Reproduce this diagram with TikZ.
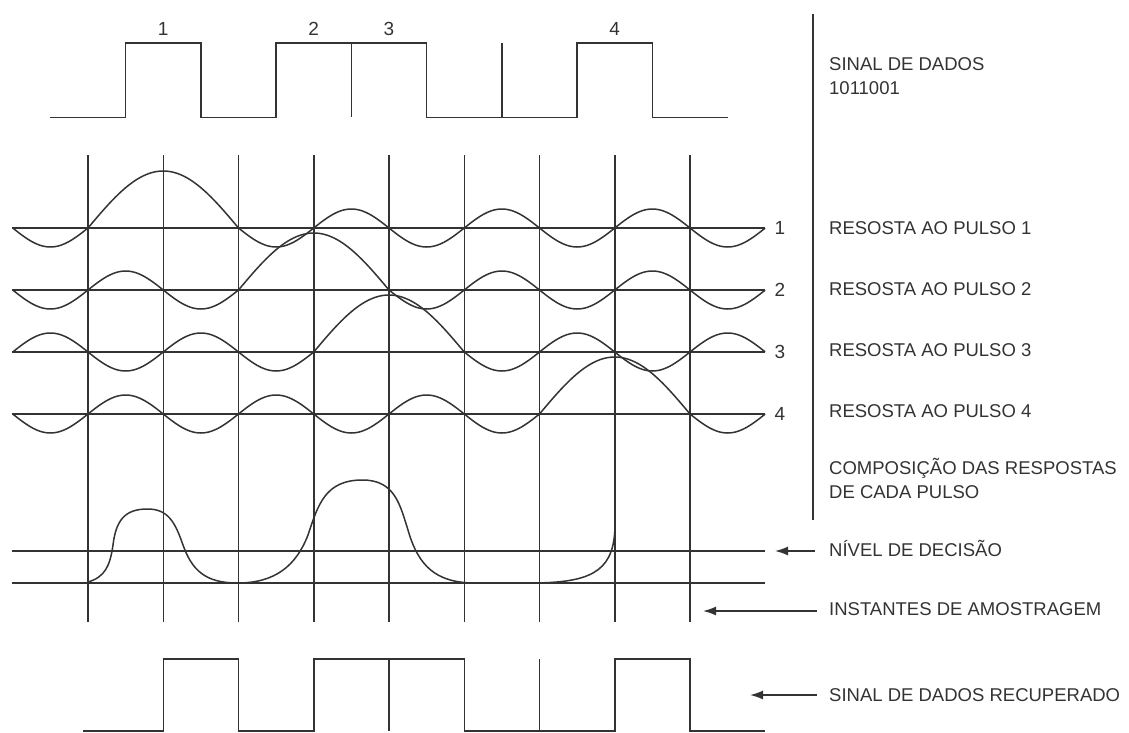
\documentclass[tikz,border=0pt]{standalone}
\usepackage{fontspec}
\setmainfont{Liberation Sans}
\usetikzlibrary{arrows.meta}
\begin{document}
\begin{tikzpicture}[x=1pt,y=-1pt,
  ln/.style={draw=black!80, line width=1.5pt},
  lbl/.style={anchor=west, font=\fontsize{18.5}{22}\selectfont, text=black!80, inner sep=0pt, text height=13.3pt, text depth=0pt},
  num/.style={font=\fontsize{19}{22}\selectfont, text=black!80, inner sep=0pt, text height=13.6pt, text depth=0pt},
  arr/.style={ln, -{Latex[length=13pt,width=9pt]}}
]
\useasboundingbox (0,0) rectangle (1129,733);
% sampling instants grid
\foreach \i in {0,...,8} \draw[ln] ({88+75.25*\i},155) -- ({88+75.25*\i},622);
% data signal 1011001
\draw[ln] (50.4,117.5) -- (125.6,117.5) -- (125.6,43) -- (200.9,43) -- (200.9,117.5) -- (276.1,117.5) -- (276.1,43) -- (426.6,43) -- (426.6,117.5) -- (577.1,117.5) -- (577.1,43) -- (652.4,43) -- (652.4,117.5) -- (727.6,117.5);
\draw[ln] (351.4,43) -- (351.4,117.5);
\draw[ln] (501.9,43) -- (501.9,117.5);
\node[num] (p1) at (163.25,29) {1};
\node[num] (p2) at (313.75,29) {2};
\node[num] (p3) at (389,29) {3};
\node[num] (p4) at (614.75,29) {4};
% pulse responses
\foreach \c/\yb [count=\n] in {1/228,3/290,4/352,7/414} {
  \draw[ln] (12,\yb) -- (765,\yb);
  \draw[ln] plot[domain=-1:9,samples=301] ({88+75.25*\x},{\yb-ifthenelse(abs(\x-\c)<1,57*cos(90*(\x-\c)),19*sin(180*(\x-\c))*sign(\x-\c))});
  \node[num] (r\n) at (780,\yb) {\n};
}
% decision level and baseline
\draw[ln] (12,551) -- (765,551);
\draw[ln] (12,583) -- (765,583);
% composite response
\draw[ln] (88,582) .. controls (105,577) and (110,566) .. (113,545)
  .. controls (116,520) and (125,509) .. (147.5,509)
  .. controls (168,509) and (175,522) .. (183,545)
  .. controls (192,570) and (205,583) .. (237.5,583)
  .. controls (275,583) and (296,566) .. (308,535)
  .. controls (318,505) and (325,480) .. (362.5,480)
  .. controls (395,480) and (400,505) .. (408,530)
  .. controls (418,565) and (435,583) .. (475,583)
  -- (530,583)
  .. controls (590,583) and (612,572) .. (614.75,532);
% recovered data signal
\draw[ln] (83,731) -- (163.25,731) -- (163.25,659) -- (238.5,659) -- (238.5,731) -- (313.75,731) -- (313.75,659) -- (464.25,659) -- (464.25,731) -- (614.75,731) -- (614.75,659) -- (690,659) -- (690,731) -- (765,731);
\draw[ln] (389,659) -- (389,731);
\draw[ln] (539.5,659) -- (539.5,731);
% right separator
\draw[ln] (813,14) -- (813,520);
% labels
\node[lbl] (t1) at (829,64) {SINAL DE DADOS};
\node[lbl] (t1b) at (829,88) {1011001};
\node[lbl] (t2) at (829,228) {RESOSTA AO PULSO 1};
\node[lbl] (t3) at (829,289) {RESOSTA AO PULSO 2};
\node[lbl] (t4) at (829,350) {RESOSTA AO PULSO 3};
\node[lbl] (t5) at (829,411) {RESOSTA AO PULSO 4};
\node[lbl] (t6) at (829,468) {COMPOSIÇÃO DAS RESPOSTAS};
\node[lbl] (t6b) at (829,492) {DE CADA PULSO};
\node[lbl] (t7) at (829,550) {NÍVEL DE DECISÃO};
\node[lbl] (t8) at (829,609) {INSTANTES DE AMOSTRAGEM};
\node[lbl] (t9) at (829,695) {SINAL DE DADOS RECUPERADO};
% arrows
\coordinate (a1s) at (815,551); \coordinate (a1e) at (775,551);
\coordinate (a2s) at (817,611); \coordinate (a2e) at (703,611);
\coordinate (a3s) at (817,695); \coordinate (a3e) at (750,695);
\draw[arr] (a1s) -- (a1e);
\draw[arr] (a2s) -- (a2e);
\draw[arr] (a3s) -- (a3e);
\end{tikzpicture}
\end{document}
